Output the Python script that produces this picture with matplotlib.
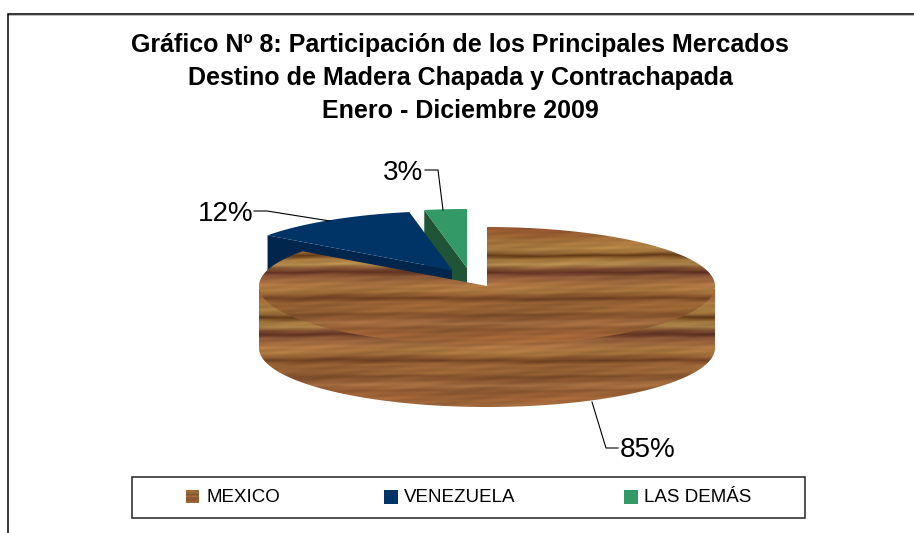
import numpy as np
import matplotlib
matplotlib.use("Agg")
import matplotlib.pyplot as plt
from matplotlib.patches import Polygon, Rectangle

plt.rcParams['font.family'] = ['Liberation Sans', 'DejaVu Sans']

title_lines = ["Gráfico Nº 8: Participación de los Principales Mercados",
               "Destino de Madera Chapada y Contrachapada",
               "Enero - Diciembre 2009"]
categories = ["MEXICO", "VENEZUELA", "LAS DEMÁS"]
values = [85, 12, 3]
pct_labels = ["85%", "12%", "3%"]

W, H = 914, 533
fig = plt.figure(figsize=(W / 100, H / 100), dpi=100, facecolor="white")
ax = fig.add_axes([0, 0, 1, 1])

CX, CY, A, B, DEPTH = 487, 286, 228, 59, 62
TEX_TOP = 227

# wood grain: vertical colour profile (offset below top of face, r, g, b)
grain_y = [0, 8, 13, 21, 25, 28, 32, 37, 41, 45, 49, 58, 64, 68, 71, 75, 84, 87, 91, 96, 101, 109, 118]
grain_r = [150, 158, 165, 172, 150, 100, 162, 176, 130, 96, 140, 172, 165, 140, 112, 152, 150, 126, 140, 165, 140, 160, 160]
grain_g = [85, 100, 115, 127, 105, 58, 118, 136, 82, 50, 88, 117, 115, 88, 66, 98, 98, 78, 88, 110, 88, 100, 105]
grain_b = [50, 52, 60, 66, 55, 24, 60, 76, 50, 34, 55, 66, 60, 48, 36, 52, 52, 42, 50, 65, 48, 55, 60]


def wood(x0, x1, y0, y1):
    xs = np.arange(x0, x1, 1.0)
    ys = np.arange(y0, y1, 1.0)
    X, Y = np.meshgrid(xs, ys)
    off = Y - y0 + 0.5 * np.sin(X / 47.0) + 0.3 * np.sin(X / 13.0 + 1.0)
    img = np.dstack([np.interp(off, grain_y, c) for c in (grain_r, grain_g, grain_b)])
    fine = (1 + 0.025 * np.sin(Y * 1.3 + X / 31.0) + 0.03 * np.sin(X / 9.0 + Y * 0.7)
            + 0.04 * np.sin(X / 37.0 + Y / 11.0))
    return np.clip(img * fine[..., None], 0, 255).astype(np.uint8)


def arc(t0, t1, dx=0, dy=0, n=200):
    t = np.radians(np.linspace(t0, t1, n))
    return np.column_stack([CX + dx + A * np.sin(t), CY + dy - B * np.cos(t)])


# cumulative clockwise angles from 12 o'clock, from the values
cum = np.cumsum([0] + values) / np.sum(values) * 360
offsets = [(0, 0), (-35, -16), (-20, -18)]
top_cols = ["#8B5A2B", "#003366", "#339966"]
side_cols = [None, "#00264D", "#1F5437"]

# exploded slices: cut side then top face, back to front
for i in (2, 1):
    dx, dy = offsets[i]
    a = arc(cum[i], cum[i + 1], dx, dy)
    apex = np.array([[CX + dx, CY + dy]])
    edge = arc(cum[i], cum[i], dx, dy, 1)
    cut = np.vstack([apex, edge, edge + [0, DEPTH], apex + [0, DEPTH]])
    ax.add_patch(Polygon(cut, closed=True, fc=side_cols[i], ec="none", zorder=2 + (2 - i) * 2))
    ax.add_patch(Polygon(np.vstack([apex, a]), closed=True, fc=top_cols[i], ec="none", zorder=3 + (2 - i) * 2))

# main slice: textured side and top (side runs a little under the top face)
front = arc(90, 270)
side_poly = Polygon(np.vstack([front + [0, -3], (front + [0, DEPTH])[::-1]]), closed=True, fc="none", ec="none",
                    transform=ax.transData)
top_poly = Polygon(np.vstack([[[CX, CY]], arc(cum[0], cum[1])]), closed=True, fc="none", ec="none",
                   transform=ax.transData)
ax.add_patch(side_poly)
ax.add_patch(top_poly)
x0, x1 = CX - A - 2, CX + A + 2
im = ax.imshow(wood(x0, x1, TEX_TOP + DEPTH, TEX_TOP + DEPTH + 125),
               extent=(x0, x1, TEX_TOP + DEPTH + 125, TEX_TOP + DEPTH), aspect="auto", zorder=8,
               interpolation="bilinear")
im.set_clip_path(side_poly)
im = ax.imshow(wood(x0, x1, TEX_TOP, TEX_TOP + 125),
               extent=(x0, x1, TEX_TOP + 125, TEX_TOP), aspect="auto", zorder=9, interpolation="bilinear")
im.set_clip_path(top_poly)

# chart frame
ax.plot([7.5, 914], [15, 15], color="#BBBBBB", lw=0.7, zorder=1)
ax.plot([7.5, 7.5, 914], [533, 13.5, 13.5], color="black", lw=1.1, zorder=12, solid_joinstyle="miter")

# title
for line, y in zip(title_lines, [45, 78, 111]):
    ax.text(460, y, line, ha="center", va="center", fontsize=18, fontweight="bold", color="black", zorder=12)

# data labels and leader lines
for txt, (lx, ly), pts in zip(pct_labels,
                              [(620, 450), (198, 214), (383, 173)],
                              [[(592, 402), (606, 448), (618, 448)],
                               [(330, 221), (267, 211), (254, 211)],
                               [(443, 210), (438, 170), (425, 170)]]):
    ax.text(lx, ly, txt, ha="left", va="center", fontsize=20, color="black", zorder=12)
    px, py = zip(*pts)
    ax.plot(px, py, color="black", lw=0.8, zorder=11)

# legend
ax.add_patch(Rectangle((132, 477), 673, 41, fc="white", ec="#222222", lw=1.1, zorder=10))
for name, mx, tx, col in zip(categories, [186, 384, 624], [206, 404, 644], top_cols):
    if name == categories[0]:
        ax.imshow(wood(0, 30, TEX_TOP, TEX_TOP + 125), extent=(mx, mx + 13, 503, 490), aspect="auto",
                  zorder=11, interpolation="bilinear")
    else:
        ax.add_patch(Rectangle((mx, 490), 14, 14, fc=col, ec="none", zorder=11))
    ax.text(tx, 497, name, ha="left", va="center", fontsize=13.5, color="black", zorder=12)

ax.set_xlim(0, W)
ax.set_ylim(H, 0)
ax.axis("off")
fig.savefig("out.png", dpi=100, facecolor="white")
